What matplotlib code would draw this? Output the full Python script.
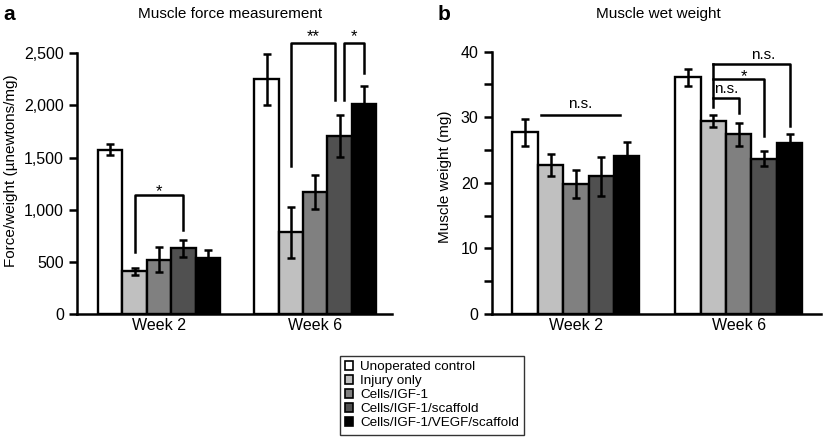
import numpy as np
import matplotlib.pyplot as plt
from matplotlib.patches import Patch
from matplotlib.ticker import FuncFormatter, MultipleLocator

plt.rcParams['font.family'] = ['Liberation Sans', 'DejaVu Sans']

groups = ['Week 2', 'Week 6']
series = ['Unoperated control', 'Injury only', 'Cells/IGF-1',
          'Cells/IGF-1/scaffold', 'Cells/IGF-1/VEGF/scaffold']
colors = ['#ffffff', '#c0c0c0', '#808080', '#505050', '#000000']

# muscle force (uN/mg), rows = groups, cols = series
force = [[1575, 410, 520, 630, 540],
         [2250, 785, 1170, 1705, 2015]]
force_err = [[55, 35, 120, 80, 70],
             [245, 245, 165, 200, 175]]

# muscle wet weight (mg)
weight = [[27.7, 22.7, 19.8, 21.0, 24.1],
          [36.1, 29.4, 27.4, 23.7, 26.0]]
weight_err = [[2.1, 1.7, 2.1, 3.0, 2.1],
              [1.3, 0.9, 1.8, 1.1, 1.4]]

W = 0.156
offs = (np.arange(5) - 2) * W


def draw_bars(ax, vals, errs):
    vals = np.array(vals)
    errs = np.array(errs)
    for j in range(5):
        xs = np.arange(2) + offs[j]
        ax.bar(xs, vals[:, j], W, color=colors[j], edgecolor='black',
               linewidth=1.7, zorder=2)
        ax.errorbar(xs, vals[:, j], yerr=errs[:, j], fmt='none',
                    ecolor='black', elinewidth=1.8, capsize=3,
                    capthick=1.8, zorder=3)


def style(ax, top):
    for s in ['top', 'right']:
        ax.spines[s].set_visible(False)
    ax.spines['left'].set_linewidth(1.8)
    ax.spines['bottom'].set_linewidth(1.8)
    ax.spines['left'].set_bounds(0, top)
    ax.set_xticks([0, 1])
    ax.set_xticklabels(groups, fontsize=11.5)
    ax.tick_params(axis='x', length=0, pad=3)
    ax.tick_params(axis='y', which='both', width=1.8, labelsize=11.5, direction='out')
    ax.tick_params(axis='y', which='major', length=6)
    ax.tick_params(axis='y', which='minor', length=6)


fig = plt.figure(figsize=(8.23, 4.38), dpi=100)

# panel a
ax1 = fig.add_axes([0.0936, 0.283, 0.476 - 0.0936, 0.938 - 0.283])
draw_bars(ax1, force, force_err)
ax1.set_xlim(-0.524, 1.489)
ax1.set_ylim(0, 2750)
ax1.set_yticks(np.arange(0, 2501, 500))
ax1.yaxis.set_major_formatter(FuncFormatter(lambda v, p: f'{int(v):,}'))
style(ax1, 2500)
ax1.set_ylabel('Force/weight (\u00b5newtons/mg)', fontsize=11, labelpad=4)
fig.text(0.28, 0.968, 'Muscle force measurement', ha='center', va='center', fontsize=11)
fig.text(0.004, 0.968, 'a', ha='left', va='center', fontsize=15, fontweight='bold')

lw = 1.8
# week 2 bracket
x0, x1 = offs[1], offs[3]
ax1.plot([x0, x0, x1, x1], [595, 1140, 1140, 805], color='black', lw=lw)
ax1.text((x0 + x1) / 2, 1100, '*', ha='center', va='bottom', fontsize=12)
# week 6 brackets
x0, x1 = 1 + offs[1], 1 + offs[3] - 0.03
ax1.plot([x0, x0, x1, x1], [1420, 2600, 2600, 2050], color='black', lw=lw)
ax1.text((x0 + x1) / 2, 2590, '**', ha='center', va='bottom', fontsize=12)
x0, x1 = 1 + offs[3] + 0.03, 1 + offs[4]
ax1.plot([x0, x0, x1, x1], [2050, 2600, 2600, 2310], color='black', lw=lw)
ax1.text((x0 + x1) / 2, 2590, '*', ha='center', va='bottom', fontsize=12)

# panel b
ax2 = fig.add_axes([0.5975, 0.283, 0.998 - 0.5975, 0.912 - 0.283])
draw_bars(ax2, weight, weight_err)
ax2.set_xlim(-0.517, 1.507)
ax2.set_ylim(0, 42)
ax2.set_yticks(np.arange(0, 41, 10))
ax2.yaxis.set_minor_locator(MultipleLocator(5))
style(ax2, 40)
ax2.set_ylabel('Muscle weight (mg)', fontsize=11, labelpad=6)
fig.text(0.80, 0.968, 'Muscle wet weight', ha='center', va='center', fontsize=11)
fig.text(0.532, 0.968, 'b', ha='left', va='center', fontsize=15, fontweight='bold')

ax2.plot([offs[1] - 0.06, offs[4] - 0.04], [30.4, 30.4], color='black', lw=lw)
ax2.text((offs[1] + offs[4]) / 2 - 0.05, 30.9, 'n.s.', ha='center', va='bottom', fontsize=11)
xl = 1 + offs[1]
ax2.plot([xl, xl], [31.6, 38.1], color='black', lw=lw)
brackets = [(1 + offs[4], 38.1, 28.7, 'n.s.', 0.07, 38.5),
            (1 + offs[3], 35.8, 27.1, '*', 0.03, 35.0),
            (1 + offs[2], 33.0, 30.7, 'n.s.', 0.0, 33.3)]
for xr, ytop, ybot, lab, dx, ytxt in brackets:
    ax2.plot([xl, xr, xr], [ytop, ytop, ybot], color='black', lw=lw)
    ax2.text((xl + xr) / 2 + dx, ytxt, lab, ha='center', va='bottom',
             fontsize=11 if lab == 'n.s.' else 12)

handles = [Patch(facecolor=c, edgecolor='black', linewidth=1.2) for c in colors]
leg = fig.legend(handles, series, loc='lower center', bbox_to_anchor=(0.525, -0.008),
                 fontsize=9.7, frameon=True, fancybox=False, edgecolor='black',
                 handlelength=0.6, handleheight=0.6, handletextpad=0.5,
                 labelspacing=0.15, borderpad=0.4)
leg.get_frame().set_linewidth(1.0)

fig.savefig('out.png', dpi=100)
